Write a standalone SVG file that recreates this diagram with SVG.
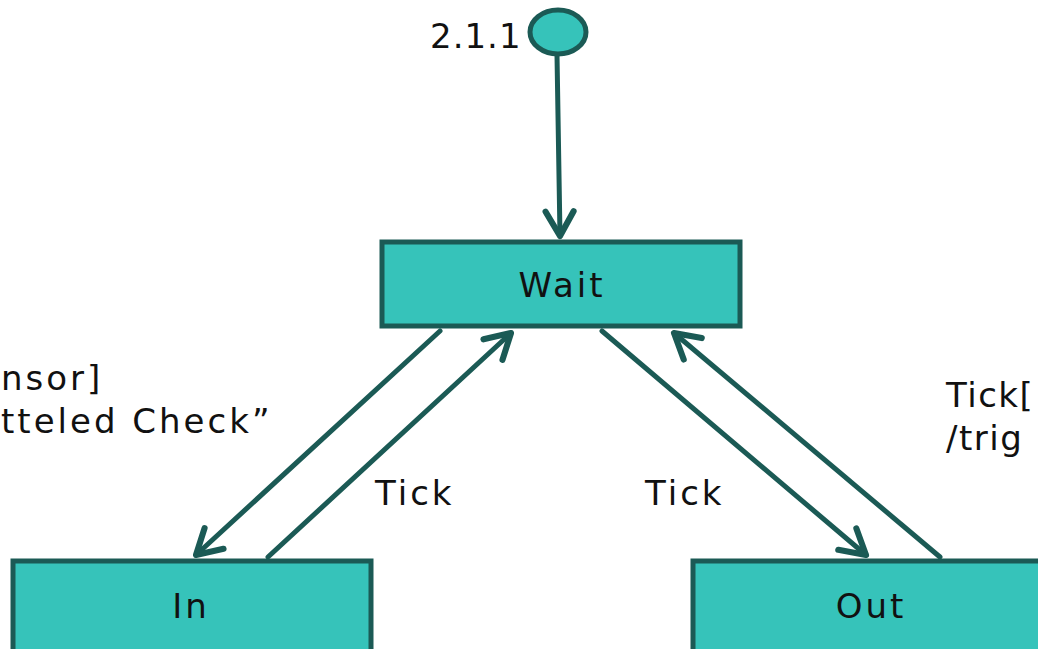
<svg xmlns="http://www.w3.org/2000/svg" width="1038" height="649" viewBox="0 0 1038 649">
<style>
.box{fill:#36c3ba;stroke:#1b5a55;stroke-width:5}
.t{font-family:"DejaVu Sans","Noto Sans",sans-serif;font-size:34px;letter-spacing:3px;fill:#111}
.c{stroke:#1b5a55;stroke-width:5;fill:none;stroke-linecap:round}
</style>
<defs>
<marker id="ah" viewBox="0 0 20 20" refX="17" refY="10" markerWidth="7" markerHeight="7" markerUnits="strokeWidth" orient="auto">
<path d="M3,2 L17,10 L3,18" fill="none" stroke="#1b5a55" stroke-width="3.5" stroke-linecap="round" stroke-linejoin="round"/>
</marker>
</defs>
<rect width="1038" height="649" fill="#fff"/>
<g id="connectors">
<line class="c" x1="557" y1="55" x2="560" y2="236" marker-end="url(#ah)"/>
<line class="c" x1="440" y1="331" x2="196" y2="555" marker-end="url(#ah)"/>
<line class="c" x1="268" y1="557" x2="511" y2="333" marker-end="url(#ah)"/>
<line class="c" x1="602" y1="331" x2="866" y2="555" marker-end="url(#ah)"/>
<line class="c" x1="940" y1="557" x2="674" y2="333" marker-end="url(#ah)"/>
</g>
<g id="initial">
<ellipse cx="558" cy="32" rx="28" ry="22" fill="#36c3ba" stroke="#1b5a55" stroke-width="5"/>
<text class="t" x="430" y="48" font-size="28" style="letter-spacing:1px">2.1.1</text>
</g>
<g id="wait">
<rect class="box" x="382" y="242" width="358" height="84"/>
<text class="t" x="562" y="297" text-anchor="middle">Wait</text>
</g>
<g id="in">
<rect class="box" x="13" y="561" width="358" height="95"/>
<text class="t" x="191" y="618" text-anchor="middle">In</text>
</g>
<g id="out">
<rect class="box" x="693" y="561" width="358" height="95"/>
<text class="t" x="871" y="618" text-anchor="middle">Out</text>
</g>
<g id="labels">
<text class="t" x="1" y="390">nsor]</text>
<text class="t" x="1" y="433">tteled Check”</text>
<text class="t" x="375" y="505">Tick</text>
<text class="t" x="645" y="505">Tick</text>
<text class="t" x="946" y="407" style="letter-spacing:1.5px">Tick[</text>
<text class="t" x="946" y="450" style="letter-spacing:1.5px">/trig</text>
</g>
</svg>
